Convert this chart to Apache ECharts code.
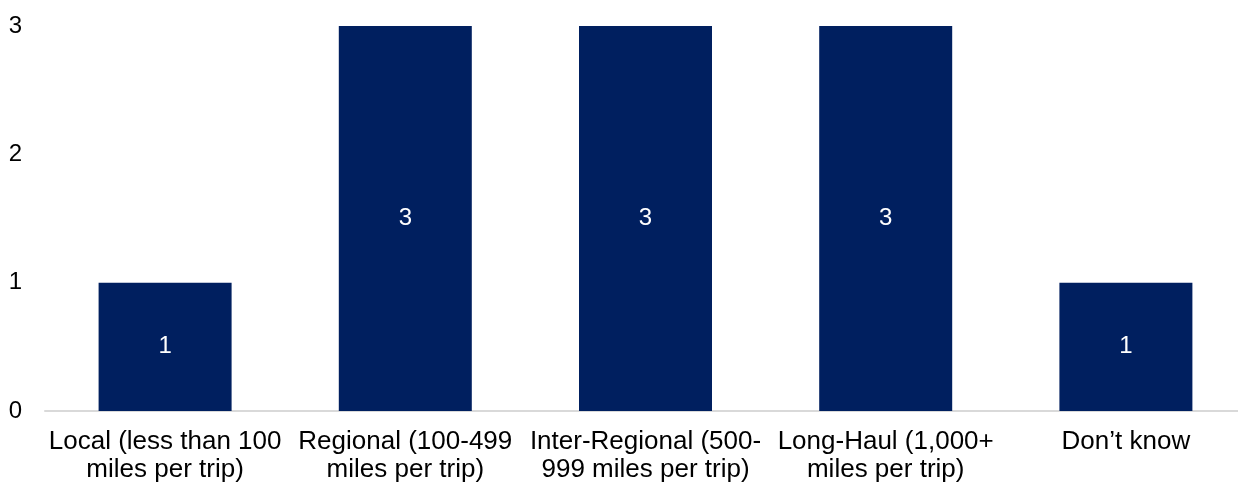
<!DOCTYPE html>
<html>
<head>
<meta charset="utf-8">
<script src="https://cdn.jsdelivr.net/npm/echarts@6/dist/echarts.min.js"></script>
<style>
    html, body { margin: 0; padding: 0; background: #fff; }
    #chart { width: 1238px; height: 487px; }
</style>
</head>
<body>
<div id="chart"></div>
<script>
const categories = [
    'Local (less than 100\nmiles per trip)',
    'Regional (100-499\nmiles per trip)',
    'Inter-Regional (500-\n999 miles per trip)',
    'Long-Haul (1,000+\nmiles per trip)',
    'Don\u2019t know'
];
const counts = [1, 3, 3, 3, 1];
const yTicks = [0, 1, 2, 3];

const chart = echarts.init(document.getElementById('chart'));
const option = {
    animation: false,
    // category band is a bit wider than the visible axis line, as in the source
    grid: { left: 45, width: 1201, top: 26, bottom: 76, outerBoundsMode: 'none' },
    xAxis: {
        type: 'category',
        data: categories,
        axisLine: { show: true, lineStyle: { color: '#d9d9d9', width: 2 } },
        axisTick: { show: false },
        axisLabel: {
            interval: 0,
            color: '#000',
            fontFamily: 'Liberation Sans, Arial',
            fontSize: 26,
            lineHeight: 28,
            margin: 17,
            align: 'center'
        }
    },
    yAxis: {
        type: 'value',
        min: yTicks[0],
        max: yTicks[yTicks.length - 1],
        interval: 1,
        splitLine: { show: false },
        axisLine: { show: false },
        axisTick: { show: false },
        axisLabel: {
            color: '#000',
            fontFamily: 'Liberation Sans, Arial',
            fontSize: 24,
            margin: 23
        }
    },
    series: [{
        type: 'bar',
        data: counts,
        barWidth: 133,
        itemStyle: { color: '#001f5f' },
        label: {
            show: true,
            position: 'inside',
            color: '#fff',
            fontFamily: 'Liberation Sans, Arial',
            fontSize: 24
        }
    }]
};
chart.setOption(option);
</script>
</body>
</html>
